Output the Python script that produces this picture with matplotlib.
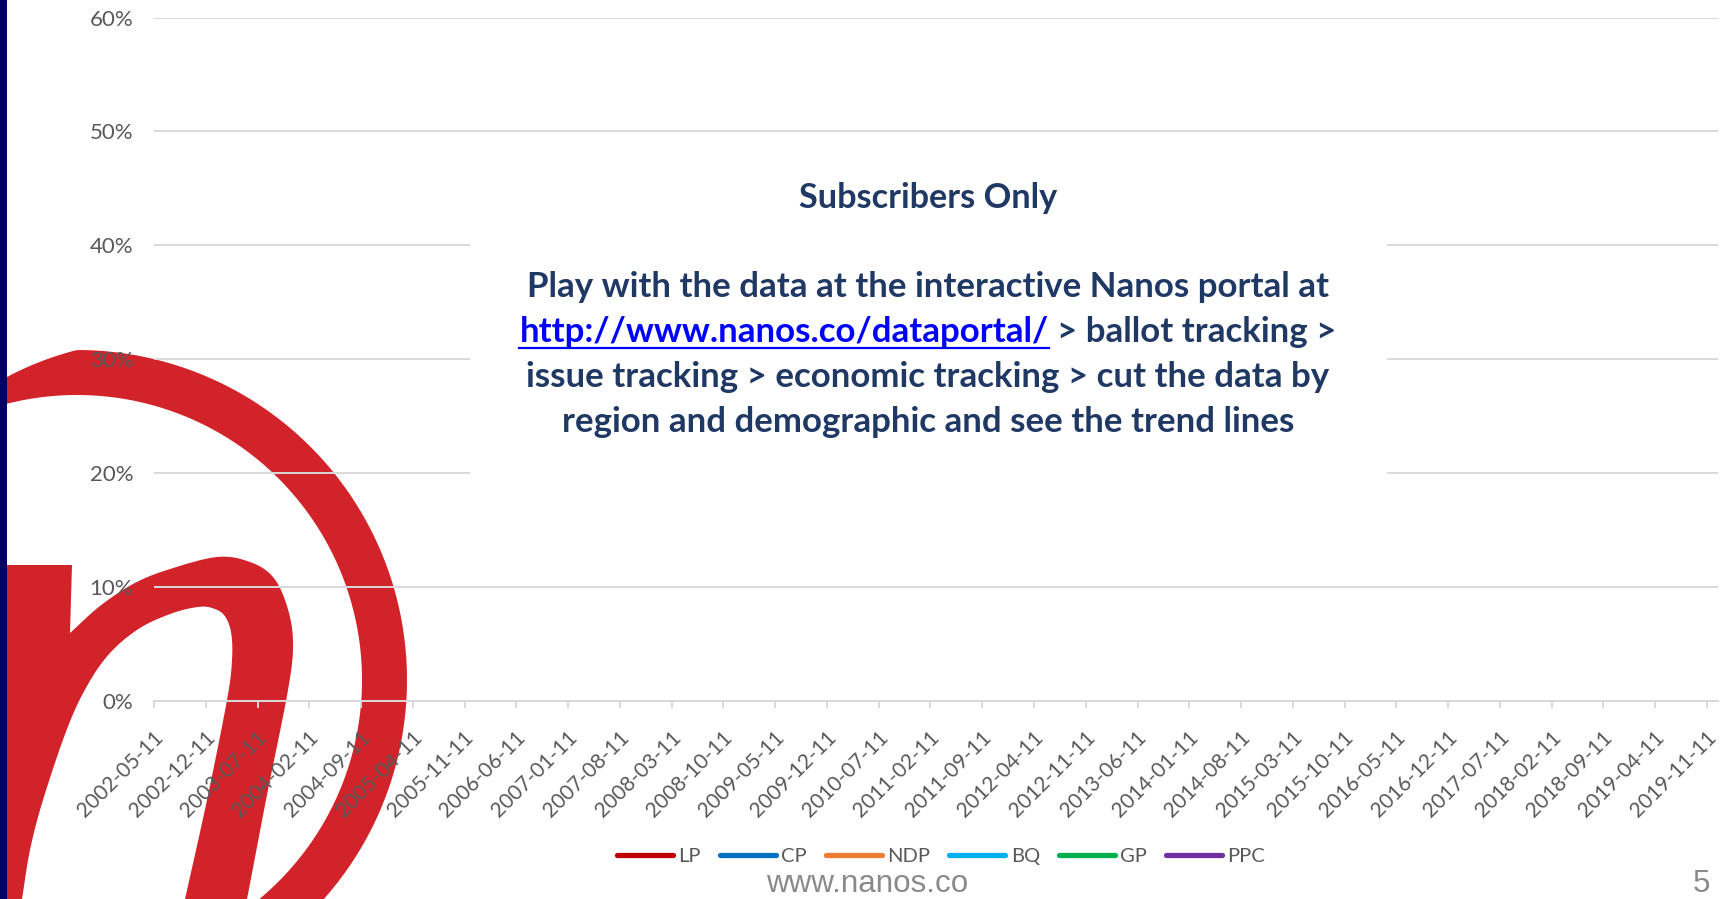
import numpy as np
import matplotlib
matplotlib.use("Agg")
import matplotlib.pyplot as plt
from matplotlib.patches import Polygon, Rectangle
from matplotlib.lines import Line2D
import matplotlib.transforms as mtransforms

plt.rcParams['font.family'] = ['Lato', 'DejaVu Sans']

# ---------------- data ----------------
parties = ["LP", "CP", "NDP", "BQ", "GP", "PPC"]
party_colors = ["#C00000", "#0070C0", "#ED7D31", "#00B0F0", "#00B050", "#7030A0"]
hidden_values = []          # subscribers only: no values published
tick_labels = ["2002-05-11", "2002-12-11", "2003-07-11", "2004-02-11", "2004-09-11",
               "2005-04-11", "2005-11-11", "2006-06-11", "2007-01-11", "2007-08-11",
               "2008-03-11", "2008-10-11", "2009-05-11", "2009-12-11", "2010-07-11",
               "2011-02-11", "2011-09-11", "2012-04-11", "2012-11-11", "2013-06-11",
               "2014-01-11", "2014-08-11", "2015-03-11", "2015-10-11", "2016-05-11",
               "2016-12-11", "2017-07-11", "2018-02-11", "2018-09-11", "2019-04-11",
               "2019-11-11"]
tick_months = [7 * i for i in range(len(tick_labels))]   # months since 2002-05-11
y_ticks = [0.0, 0.1, 0.2, 0.3, 0.4, 0.5, 0.6]

title_text = "Subscribers Only"
body_lines = ["Play with the data at the interactive Nanos portal at",
              "http://www.nanos.co/dataportal/ > ballot tracking >",
              "issue tracking > economic tracking > cut the data by",
              "region and demographic and see the trend lines"]
link_text = "http://www.nanos.co/dataportal/"

# ---------------- figure ----------------
W, H, DPI = 1723, 899, 100
fig = plt.figure(figsize=(W / DPI, H / DPI), dpi=DPI)
fig.patch.set_facecolor("white")

# background layer (logo + side bar), pixel coordinates
bg = fig.add_axes([0, 0, 1, 1], zorder=0)
bg.set_xlim(0, W); bg.set_ylim(H, 0); bg.axis("off")

RED = "#D2232A"
cx, cy = 77, 680
th = np.radians(np.linspace(-85, 122, 300))
deg = np.degrees(th)
r_out = 330 - np.clip(deg - 90, 0, None) * 1.46
r_in = np.full_like(th, 285.0)
r_out = np.maximum(r_out, r_in)
outer = np.column_stack([cx + r_out * np.cos(th), cy - r_out * np.sin(th)])
inner = np.column_stack([cx + r_in * np.cos(th), cy - r_in * np.sin(th)])[::-1]
bg.add_patch(Polygon(np.vstack([outer, inner]), closed=True, fc=RED, ec="none", zorder=1))


def catmull(pts, n=12):
    p = np.asarray(pts, float)
    p = np.vstack([2 * p[0] - p[1], p, 2 * p[-1] - p[-2]])
    out = []
    for i in range(1, len(p) - 2):
        p0, p1, p2, p3 = p[i - 1], p[i], p[i + 1], p[i + 2]
        for t in np.linspace(0, 1, n, endpoint=False):
            t2, t3 = t * t, t * t * t
            out.append(0.5 * ((2 * p1) + (-p0 + p2) * t + (2 * p0 - 5 * p1 + 4 * p2 - p3) * t2
                              + (-p0 + 3 * p1 - 3 * p2 + p3) * t3))
    out.append(p[-2])
    return np.array(out)


arch_out = catmull([(70, 633), (100, 606), (133, 584), (167, 570), (217, 557), (250, 562),
                    (273, 577), (287, 606), (293, 642), (288, 690), (266, 800), (247, 899),
                    (242, 920)])
arch_in = catmull([(180, 920), (185, 899), (207, 800), (227, 700), (232, 660), (231, 632),
                   (224, 615), (212, 608), (198, 607), (173, 613), (140, 628), (110, 653),
                   (87, 686), (67, 729), (43, 800), (30, 850), (22, 899), (18, 920)])
n_shape = np.vstack([[(-5, 565), (72, 565), (70, 633)], arch_out, arch_in, [(-5, 920)]])
bg.add_patch(Polygon(n_shape, closed=True, fc=RED, ec="none", zorder=1))
bg.add_patch(Rectangle((0, 0), 7, H, fc="#000066", ec="none", zorder=3))

# ---------------- chart ----------------
GRID = "#D9D9D9"
TXT = "#595959"
ax = fig.add_axes([154 / W, 1 - 701 / H, (1718 - 154) / W, (701 - 17.5) / H], zorder=1)
ax.set_facecolor("none")
handles = []
for name, col in zip(parties, party_colors):
    h, = ax.plot(hidden_values, hidden_values, color=col, lw=3.8, solid_capstyle="round", label=name)
    handles.append(h)

ax.set_xlim(0, 211.5)
ax.set_ylim(0, 0.6)
ax.set_yticks(y_ticks)
ax.set_yticklabels([f"{v:.0%}" for v in y_ticks])
ax.set_xticks(tick_months)
ax.set_xticklabels(tick_labels, rotation=45, ha="right", va="center", rotation_mode="anchor")
ax.yaxis.grid(True, color=GRID, lw=1.4)
ax.set_axisbelow(True)
for s in ["top", "right", "left"]:
    ax.spines[s].set_visible(False)
ax.spines["bottom"].set_color(GRID)
ax.spines["bottom"].set_linewidth(1.4)
ax.tick_params(axis="y", length=0, pad=15, labelsize=16, labelcolor=TXT)
ax.tick_params(axis="x", length=5, width=1.4, color=GRID, direction="out", pad=19,
               labelsize=15, labelcolor=TXT)
offset = mtransforms.ScaledTranslation(6 / DPI, 0, fig.dpi_scale_trans)
for lbl in ax.xaxis.get_majorticklabels():
    lbl.set_transform(lbl.get_transform() + offset)

fig.legend(handles, parties, loc="center", bbox_to_anchor=(941 / W, 1 - 856 / H), ncol=6,
           frameon=False, fontsize=14.5, handlelength=2.8, handletextpad=0.26,
           columnspacing=0.93, labelcolor=TXT)

# ---------------- overlay (box, message, footer) ----------------
ov = fig.add_axes([0, 0, 1, 1], zorder=2)
ov.set_facecolor("none")
ov.set_xlim(0, W); ov.set_ylim(H, 0); ov.axis("off")
ov.add_patch(Rectangle((470, 150), 1387 - 470, 370, fc="white", ec="none", zorder=1))

NAVY = "#1F3864"
BOX_CX = 928
fig.canvas.draw()
rend = fig.canvas.get_renderer()


def width_of(t):
    return t.get_window_extent(rend).width


title = ov.text(BOX_CX, 208, title_text, ha="center", va="baseline", fontsize=22,
                fontweight="bold", color=NAVY, zorder=3)
title.set_fontsize(22 * 258 / width_of(title))

probe = ov.text(0, 0, body_lines[0], fontsize=22, fontweight="bold")
body_fs = 22 * 799 / width_of(probe)
probe.remove()

baselines = [297, 342, 387, 432]
for i, (line, yb) in enumerate(zip(body_lines, baselines)):
    if i == 1:
        full = ov.text(0, 0, line, fontsize=body_fs, fontweight="bold")
        wfull = width_of(full)
        full.remove()
        lk = ov.text(0, 0, link_text, fontsize=body_fs, fontweight="bold")
        wlink = width_of(lk)
        lk.remove()
        x0 = BOX_CX - wfull / 2
        ov.text(x0, yb, link_text, ha="left", va="baseline", fontsize=body_fs,
                fontweight="bold", color="#0000FF", zorder=3)
        ov.text(x0 + wfull, yb, line[len(link_text):].strip(), ha="right", va="baseline",
                fontsize=body_fs, fontweight="bold", color=NAVY, zorder=3)
        ov.add_line(Line2D([x0, x0 + wlink], [yb + 6, yb + 6], color="#0000FF", lw=1.6, zorder=3))
    else:
        ov.text(BOX_CX, yb, line, ha="center", va="baseline", fontsize=body_fs,
                fontweight="bold", color=NAVY, zorder=3)

foot = ov.text(867, 892, "www.nanos.co", ha="center", va="baseline", fontsize=22,
               color="#8A8A8A", family=["Liberation Sans", "DejaVu Sans"], zorder=3)
foot_fs = 22 * 202 / width_of(foot)
foot.set_fontsize(foot_fs)
ov.text(1701, 892, "5", ha="center", va="baseline", fontsize=foot_fs, color="#8A8A8A",
        family=["Liberation Sans", "DejaVu Sans"], zorder=3)

fig.savefig("out.png", dpi=DPI, facecolor="white")
